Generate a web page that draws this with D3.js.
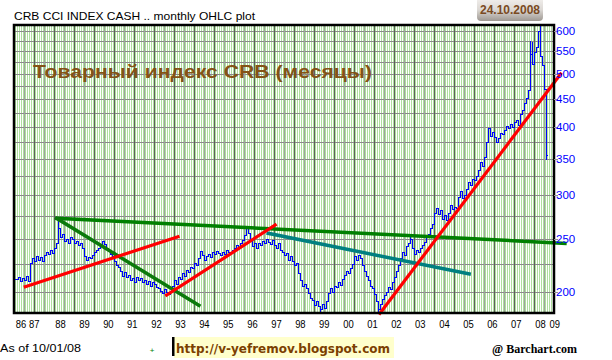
<!DOCTYPE html>
<html>
<head>
<meta charset="utf-8">
<script src="https://cdn.jsdelivr.net/npm/d3@7"></script>
<style>
  body { margin: 0; background: #fff; }
  svg { display: block; }
</style>
</head>
<body>
<div id="chart"></div>
<script>
// ---- DATA (monthly closes of the CRB CCI index, Sep 1986 .. Oct 2008) ----
const firstMonth = "1986-09";
const closes = [
  211, 213, 209, 212,
  210, 214, 209, 226, 230, 228, 232, 229, 231, 228, 233, 236,
  234, 238, 235, 240, 246, 262, 252, 255, 248, 250, 246, 252,
  250, 246, 248, 243, 245, 240, 232, 229, 231, 230, 233, 236,
  238, 240, 243, 248, 244, 240, 237, 234, 232, 228, 224, 222,
  218, 214, 217, 213, 215, 210, 212, 208, 213, 210, 212, 208,
  210, 207, 209, 205, 208, 207, 204, 203, 201, 199, 202, 200,
  198, 201, 205, 210, 207, 213, 211, 216, 214, 219, 217, 222,
  221, 226, 224, 230, 237, 233, 229, 232, 234, 231, 236, 234,
  237, 235, 233, 236, 234, 238, 236, 235, 238, 240, 243, 241,
  246, 249, 254, 261, 256, 248, 242, 246, 240, 245, 243, 248,
  246, 250, 247, 244, 249, 243, 240, 245, 238, 236, 233, 235,
  229, 232, 228, 224, 226, 216, 210, 205, 207, 203, 199, 195,
  193, 189, 192, 188, 186, 190, 187, 192, 199, 203, 200, 205,
  204, 208, 206, 211, 215, 218, 216, 221, 225, 232, 229, 233,
  230, 224, 218, 214, 210, 205, 203, 198, 192, 186, 190, 194,
  197, 200, 204, 202, 208, 213, 218, 224, 230, 236, 233, 242,
  246, 250, 240, 234, 238, 236, 240, 243, 247, 252, 255, 261,
  266, 279, 285, 277, 282, 272, 276, 271, 279, 288, 283, 286,
  284, 298, 306, 297, 300, 308, 318, 314, 322, 320, 326, 334,
  345, 340, 352, 376, 398, 385, 392, 384, 376, 382, 390, 388,
  395, 402, 398, 405, 400, 408, 412, 404, 422, 430, 442, 452,
  468, 545, 522, 548, 560, 598, 540, 520, 470, 355
];
// intramonth extremes that stick out of the open/close range
const spikeHighs = [["1988-06", 273], ["1996-04", 263], ["2003-02", 253], ["2008-02", 575], ["2008-03", 572], ["2008-07", 615]];
const spikeLows = [["1999-05", 184], ["2001-10", 183], ["2008-10", 350]];

const yTicks = [200, 250, 300, 350, 400, 450, 500, 550, 600];
const yGrid = [200, 225, 250, 275, 300, 325, 350, 375, 400, 425, 450, 475, 500, 525, 550, 575, 600];

const yearLabels = ["86", "87", "88", "89", "90", "91", "92", "93", "94", "95", "96", "97", "98", "99", "00", "01", "02", "03", "04", "05", "06", "07", "08", "09"];
const yearLabelDates = ["1986-11-15", "1987-06-05", "1988-07-08", "1989-07-08", "1990-07-08", "1991-07-08", "1992-07-08", "1993-07-08", "1994-07-08", "1995-07-08", "1996-07-08", "1997-07-08", "1998-07-08", "1999-07-08", "2000-07-08", "2001-07-08", "2002-07-08", "2003-07-08", "2004-07-08", "2005-07-08", "2006-07-08", "2007-07-08", "2008-07-08", "2009-02-10"];

// hand drawn trend lines: [date, value]
const greenLong = [["1988-05-16", 272.4], ["2009-07-16", 245.2]];
const greenSteep = [["1988-05-11", 272.4], ["1994-04-16", 188.8]];
const tealLine = [["1997-03-05", 255.7], ["2005-07-20", 215.5]];
const redA = [["1987-01-20", 204.3], ["1993-06-01", 252.1]];
const redB = [["1992-12-11", 197.2], ["1997-06-20", 264.8]];
const redC = [["2001-11-01", 182.6], ["2009-05-11", 500]];

// ---- LAYOUT ----
const W = 612, H = 360;
const plot = { left: 14, top: 25, right: 554, bottom: 313 };

const parseDay = d3.timeParse("%Y-%m-%d");
const parseMonth = d3.timeParse("%Y-%m");
const fmtMonth = d3.timeFormat("%Y-%m");

const start = parseMonth(firstMonth);
const bars = closes.map(function(c, i) {
    return { date: d3.timeMonth.offset(start, i), open: i > 0 ? closes[i - 1] : c, close: c };
});
const hiMap = new Map(spikeHighs), loMap = new Map(spikeLows);
bars.forEach(function(d) {
    let k = fmtMonth(d.date);
    d.high = Math.max(d.open, d.close, hiMap.get(k) || 0);
    d.low = Math.min(d.open, d.close, loMap.get(k) || 1e9);
});

let x = d3.scaleTime()
    .domain([bars[0].date, bars[bars.length - 1].date])
    .range([16, 546]);
let y = d3.scaleLog()
    .domain([200, 600])
    .range([291.7, 30.7]);

let svg = d3.select("#chart")
    .append("svg")
    .attr("width", W)
    .attr("height", H)
    .style("font-family", "'Liberation Sans', Arial, sans-serif");

// ---- PLOT BACKGROUND ----
svg.append("rect")
    .attr("x", plot.left).attr("y", plot.top)
    .attr("width", plot.right - plot.left).attr("height", plot.bottom - plot.top)
    .attr("fill", "#ffffff");

let grid = svg.append("g").attr("shape-rendering", "crispEdges");

// fine green stripes
grid.selectAll(".stripe")
    .data(d3.range(plot.left + 1.5, plot.right, 2))
    .enter().append("line")
    .attr("class", "stripe")
    .attr("x1", d => d).attr("x2", d => d)
    .attr("y1", plot.top).attr("y2", plot.bottom)
    .attr("stroke", "#aee09e")
    .attr("stroke-width", 1);

// horizontal grid every 25
grid.selectAll(".hgrid")
    .data(yGrid)
    .enter().append("line")
    .attr("class", "hgrid")
    .attr("x1", plot.left).attr("x2", plot.right)
    .attr("y1", d => Math.round(y(d)) + 0.5).attr("y2", d => Math.round(y(d)) + 0.5)
    .attr("stroke", "#8a8a8a");

// vertical grid, alternating dark / light
grid.selectAll(".vgrid")
    .data(d3.range(24.5, plot.right, 10))
    .enter().append("line")
    .attr("class", "vgrid")
    .attr("x1", d => d).attr("x2", d => d)
    .attr("y1", plot.top).attr("y2", plot.bottom)
    .attr("stroke", (d, i) => i % 2 ? "#5e5e5e" : "#a0a0a0");

// ---- OHLC BARS ----
let ohlc = svg.append("g")
    .attr("stroke", "#0000ff")
    .attr("stroke-width", 1)
    .attr("shape-rendering", "crispEdges");

let bx = d => Math.round(x(d.date)) + 0.5;

ohlc.selectAll(".hl")
    .data(bars)
    .enter().append("line")
    .attr("x1", bx).attr("x2", bx)
    .attr("y1", d => Math.round(y(d.high))).attr("y2", d => Math.round(y(d.low)) + 1);

ohlc.selectAll(".op")
    .data(bars)
    .enter().append("line")
    .attr("x1", d => bx(d) - 1.5).attr("x2", bx)
    .attr("y1", d => Math.round(y(d.open)) + 0.5).attr("y2", d => Math.round(y(d.open)) + 0.5);

ohlc.selectAll(".cl")
    .data(bars)
    .enter().append("line")
    .attr("x1", bx).attr("x2", d => bx(d) + 1.5)
    .attr("y1", d => Math.round(y(d.close)) + 0.5).attr("y2", d => Math.round(y(d.close)) + 0.5);

// ---- TREND LINES ----
function trend(pts, color, w) {
    svg.append("line")
        .attr("x1", x(parseDay(pts[0][0]))).attr("y1", y(pts[0][1]))
        .attr("x2", x(parseDay(pts[1][0]))).attr("y2", y(pts[1][1]))
        .attr("stroke", color)
        .attr("stroke-width", w)
        .attr("stroke-linecap", "square");
}
trend(greenLong, "#008000", 3.5);
trend(greenSteep, "#0b7a0b", 3.5);
trend(tealLine, "#008080", 3.5);
trend(redA, "#ff0000", 3.2);
trend(redB, "#ff0000", 3.2);
trend(redC, "#ff0000", 3.2);

// ---- BORDER ----
svg.append("rect")
    .attr("x", plot.left).attr("y", plot.top)
    .attr("width", plot.right - plot.left).attr("height", plot.bottom - plot.top)
    .attr("fill", "none")
    .attr("stroke", "#000")
    .attr("stroke-width", 2.5);

// ---- AXES ----
let yAxis = svg.append("g").attr("class", "y-axis");
yAxis.selectAll("line")
    .data(yTicks)
    .enter().append("line")
    .attr("x1", plot.right).attr("x2", plot.right + 4)
    .attr("y1", d => Math.round(y(d)) + 0.5).attr("y2", d => Math.round(y(d)) + 0.5)
    .attr("stroke", "#8f8f8f");
yAxis.selectAll("text")
    .data(yTicks)
    .enter().append("text")
    .attr("x", plot.right + 2)
    .attr("y", d => y(d) + 4)
    .attr("fill", "#0000ff")
    .style("font-size", "11.5px")
    .text(d => d);

svg.append("g").attr("class", "x-axis")
    .selectAll("text")
    .data(yearLabels)
    .enter().append("text")
    .attr("x", (d, i) => x(parseDay(yearLabelDates[i])))
    .attr("y", 328)
    .attr("text-anchor", "middle")
    .attr("textLength", 10.5).attr("lengthAdjust", "spacingAndGlyphs")
    .attr("fill", "#000")
    .style("font-size", "11.5px")
    .text(d => d);

// ---- TEXTS ----
svg.append("text")
    .attr("x", 14).attr("y", 20)
    .attr("textLength", 241).attr("lengthAdjust", "spacingAndGlyphs")
    .style("font-size", "10.5px")
    .text("CRB CCI INDEX CASH .. monthly OHLC plot");

svg.append("text")
    .attr("x", 33).attr("y", 78)
    .attr("textLength", 339).attr("lengthAdjust", "spacingAndGlyphs")
    .attr("fill", "#845316")
    .style("font-size", "19px")
    .style("font-weight", "bold")
    .text("Товарный индекс CRB (месяцы)");

// date badge
let defs = svg.append("defs");
let grad = defs.append("linearGradient").attr("id", "badge").attr("x1", 0).attr("y1", 0).attr("x2", 0).attr("y2", 1);
grad.append("stop").attr("offset", "0%").attr("stop-color", "#f6f4f2");
grad.append("stop").attr("offset", "55%").attr("stop-color", "#dcd8d4");
grad.append("stop").attr("offset", "100%").attr("stop-color", "#9e9892");
svg.append("rect")
    .attr("x", 477).attr("y", -4)
    .attr("width", 66).attr("height", 25)
    .attr("rx", 4)
    .attr("fill", "url(#badge)");
svg.append("text")
    .attr("x", 510).attr("y", 14)
    .attr("text-anchor", "middle")
    .attr("textLength", 60).attr("lengthAdjust", "spacingAndGlyphs")
    .attr("fill", "#7a4a22")
    .style("font-size", "12.5px")
    .style("font-weight", "bold")
    .text("24.10.2008");

svg.append("text")
    .attr("x", 0).attr("y", 352)
    .attr("textLength", 81).attr("lengthAdjust", "spacingAndGlyphs")
    .style("font-size", "11.5px")
    .text("As of 10/01/08");

svg.append("text")
    .attr("x", 152).attr("y", 353)
    .attr("text-anchor", "middle")
    .attr("fill", "#008000")
    .style("font-size", "8px")
    .text("+");

svg.append("rect")
    .attr("x", 174).attr("y", 337)
    .attr("width", 220).attr("height", 21)
    .attr("fill", "#ffffcc");
svg.append("rect")
    .attr("x", 172).attr("y", 337)
    .attr("width", 2.5).attr("height", 19)
    .attr("fill", "#000");
svg.append("text")
    .attr("x", 176).attr("y", 353)
    .attr("textLength", 214).attr("lengthAdjust", "spacingAndGlyphs")
    .attr("fill", "#7b3f00")
    .style("font-family", "'DejaVu Sans', Verdana, sans-serif")
    .style("font-size", "13px")
    .style("font-weight", "bold")
    .text("http://v-yefremov.blogspot.com");

svg.append("text")
    .attr("x", 492).attr("y", 353)
    .attr("textLength", 85).attr("lengthAdjust", "spacingAndGlyphs")
    .style("font-family", "'Liberation Serif', 'Times New Roman', serif")
    .style("font-size", "12.5px")
    .style("font-weight", "bold")
    .text("@ Barchart.com");
</script>
</body>
</html>
